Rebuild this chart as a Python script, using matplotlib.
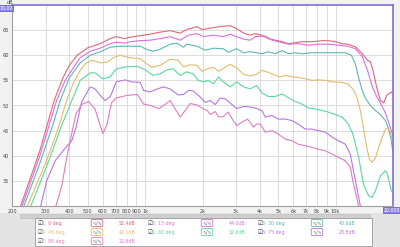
import numpy as np
import matplotlib.pyplot as plt
from matplotlib.patches import Rectangle

# frequency response, one list per angle (Hz, dB)
f0 = [222, 280, 333, 370, 400, 440, 500, 581, 655, 705, 780, 835, 942, 1062, 1200, 1353, 1527, 1650, 1870, 1990,
      2195, 2478, 2796, 3020, 3290, 3562, 3784, 4100, 4430, 4820, 5230, 5680, 6140, 6650, 7500, 8500, 9150, 9960,
      10800, 11600, 12690, 13800, 14700, 15216, 15700, 16400, 17173, 17900, 18500, 19600, 20000]
db0 = [30, 41, 51, 55.5, 58, 60, 61.5, 62.3, 63.3, 63.7, 63.3, 63.6, 63.9, 64.2, 64.6, 64.9, 64.4, 65.1, 65.7, 65.1,
       65.4, 65.7, 65.9, 65.3, 64.4, 64, 64.3, 64, 63.3, 63, 62.7, 62.3, 62.5, 62.7, 62.7, 62.9, 62.9, 62.7,
       62.3, 62.2, 61.7, 60.3, 59, 58.7, 57, 53.7, 51, 50.5, 52, 52.7, 52.4]

f15 = [226, 280, 343, 380, 420, 456, 515, 581, 655, 705, 786, 835, 942, 1062, 1200, 1353, 1527, 1690, 1870, 2030,
       2280, 2570, 2796, 3020, 3290, 3562, 3784, 4271, 4640, 5000, 5680, 6350, 7200, 8100, 9150, 10300, 11600, 12690,
       13800, 14700, 15500, 16400, 17173, 18245, 19600, 20000]
db15 = [30, 40, 51, 55, 57.5, 59.5, 60.8, 61.4, 62.3, 62.6, 62.4, 62.7, 62.9, 63, 63.3, 63.7, 63, 64, 64.3, 63.7,
        64, 63.7, 64.2, 63.7, 63.2, 63, 63.7, 63.8, 63, 62.7, 62.2, 62.3, 62, 62.2, 62.2, 62, 61.8, 61.3,
        59.7, 57, 54, 51.8, 50.5, 48.5, 45, 44]

f30 = [231, 280, 330, 358, 400, 456, 515, 581, 655, 739, 835, 942, 1010, 1100, 1200, 1353, 1470, 1590, 1650, 1870,
       2066, 2280, 2570, 2730, 3020, 3290, 3562, 3850, 4100, 4430, 4820, 5230, 5680, 6140, 6650, 7500, 8500, 9960,
       11244, 12100, 12690, 13200, 13800, 14300, 15216, 16165, 17173, 18245, 18900, 19500, 20000]
db30 = [30, 38.5, 46.5, 51, 55.5, 58.5, 60, 60.7, 61.6, 61.8, 61.8, 61.8, 61.2, 60.8, 61.2, 62.2, 62.4, 61.6, 62.2, 61.8,
        61, 61.4, 61.3, 60.6, 61.3, 60.5, 60.7, 60.5, 60.3, 60.7, 60.3, 60.9, 60.3, 60.5, 60.3, 60.5, 60.5, 60.5,
        60.5, 60, 58.3, 55.5, 53, 51.5, 50, 49, 48.2, 47, 45.5, 43.5, 40.6]

f45 = [241, 300, 350, 387, 420, 456, 490, 530, 581, 630, 680, 739, 835, 942, 1010, 1085, 1200, 1353, 1490, 1590,
       1724, 1870, 1990, 2120, 2280, 2430, 2570, 2796, 3020, 3290, 3562, 3850, 4100, 4430, 4820, 5121, 5440, 5900,
       6350, 6929, 7500, 8100, 8827, 9600, 10800, 11600, 12300, 12900, 13482, 14000, 14500, 15000, 15500, 16165,
       16800, 17600, 18245, 18700, 19383, 20000]
db45 = [30, 38.5, 45.5, 51, 54.5, 57, 58.5, 59, 58.5, 58.6, 59.5, 60, 59.5, 59.3, 58.4, 57.6, 58, 59.2, 59, 57.7,
        58.1, 58, 56.8, 57.3, 57.6, 56.8, 57.4, 58.2, 57.5, 56.2, 55.9, 56.2, 57, 56.6, 56, 55.7, 56, 55.7,
        55.6, 55.3, 55, 55.1, 55, 54.7, 54.6, 54.3, 53.3, 51.7, 49, 45.5, 42, 39.5, 38.7, 39.5,
        41.6, 43.8, 45.2, 45.6, 44.8, 42.1]

f60 = [251, 317, 360, 412, 456, 515, 546, 600, 655, 705, 800, 910, 1010, 1100, 1200, 1300, 1400, 1527, 1650, 1790,
       1900, 2030, 2140, 2280, 2430, 2570, 2796, 3020, 3290, 3562, 3850, 4100, 4430, 4820, 5230, 5680, 6140, 6650,
       7200, 7821, 8500, 9150, 9960, 10800, 11600, 12300, 13200, 14000, 14900, 15500, 16165, 17173, 18245, 18700,
       19600, 20000]
db60 = [30, 39.7, 45.5, 51, 55, 56.5, 56.5, 55.3, 55.7, 57.3, 57.7, 57.8, 57, 56, 56.3, 57.1, 57.3, 56, 56.7, 56.3,
        55, 54.7, 55, 54.3, 55.7, 54.7, 53.7, 54.7, 53.7, 53.3, 54, 52.5, 51.8, 51.8, 52.3, 51.5, 50.8, 50.3,
        49.5, 49.3, 49, 48.7, 48.2, 47.7, 46.4, 44.4, 39.7, 34.3, 32, 31.7, 33, 36, 37, 36.4,
        33, 32.6]

f75 = [283, 304, 337, 380, 412, 434, 464, 515, 546, 581, 617, 655, 705, 786, 850, 942, 980, 1062, 1160, 1250,
       1353, 1490, 1590, 1690, 1790, 1945, 2066, 2195, 2332, 2478, 2632, 2796, 3020, 3290, 3562, 3850, 4100, 4271,
       4640, 5000, 5440, 5900, 6350, 6929, 7500, 8100, 8827, 9600, 10300, 11244, 11945, 12300, 12900, 13482, 14000]
db75 = [30, 35, 39, 41.5, 43, 45.7, 50.7, 53.7, 53.3, 52, 51, 51.7, 54.7, 55.1, 54.7, 54.6, 53, 52.7, 53.3, 53.7,
        53.3, 52.1, 52.2, 53, 52.9, 51.7, 50.6, 51, 50.2, 51.5, 51.3, 50.5, 49.4, 49.8, 49.7, 49.4, 49, 47.7,
        48, 47.3, 47.3, 47, 46.3, 45.3, 45.3, 45, 44.7, 43.7, 43, 42.3, 40.3, 37.7, 33.7, 30, 27]

f90 = [340, 365, 387, 412, 434, 464, 505, 546, 581, 600, 630, 665, 705, 800, 910, 980, 1062, 1180, 1250, 1353,
       1438, 1527, 1622, 1724, 1870, 2030, 2120, 2195, 2332, 2430, 2570, 2730, 2900, 3020, 3230, 3450, 3700, 3850,
       4020, 4271, 4640, 5000, 5440, 5900, 6350, 6929, 7500, 8100, 8827, 9600, 10300, 11244, 11945, 12300, 12900,
       13200, 13800]
db90 = [30, 34, 39.5, 44.5, 48.4, 50.2, 50.8, 49.3, 46, 44.4, 46.2, 50.5, 51.5, 52, 52.2, 50.3, 50, 49.4, 50, 51,
        49.3, 47.7, 49, 50.4, 50.1, 49.3, 49, 48.2, 48.8, 47.7, 47.8, 48.7, 47, 46, 46.7, 47.3, 45.7, 46.3,
        46.3, 44.7, 45, 44.3, 43.3, 43, 42.3, 42, 41.7, 41.3, 41, 40.3, 39.7, 39, 37.7, 35, 31.7,
        30, 27]

names = ["1: 0 deg", "2: 15 deg", "3: 30 deg", "4: 45 deg", "5: 60 deg", "6: 75 deg", "7: 90 deg"]
levels = ["52.4dB", "44.0dB", "40.6dB", "42.1dB", "32.6dB", "23.8dB", "22.6dB"]
colors = ["#e06878", "#d870e0", "#5cb8b4", "#e0bc6c", "#5cd89c", "#b478e0", "#e07cc4"]
curves = [(f0, db0), (f15, db15), (f30, db30), (f45, db45), (f60, db60), (f75, db75), (f90, db90)]

xticks = [200, 300, 400, 500, 600, 700, 800, 900, 1000, 2000, 3000, 4000, 5000, 6000, 7000, 8000, 9000, 10000]
xlabels = ["200", "300", "400", "500", "600", "700", "800", "900", "1k", "2k", "3k", "4k", "5k", "6k", "7k",
           "8k", "9k", "10k"]
yticks = [35, 40, 45, 50, 55, 60, 65]

W, H = 400, 247
fig = plt.figure(figsize=(4, 2.47), dpi=100, facecolor="#f2f2f2")

def px(x, y, w, h):
    return [x / W, 1 - (y + h) / H, w / W, h / H]

ax = fig.add_axes(px(12, 5, 381, 201))
ax.set_xscale("log")
ax.set_xlim(200, 20000)
ax.set_ylim(30, 70)
for (f, d), c in zip(curves, colors):
    ax.plot(f, d, color=c, lw=0.8)

ax.set_xticks(xticks)
ax.set_xticklabels(xlabels)
ax.xaxis.set_minor_locator(plt.NullLocator())
ax.set_yticks(yticks)
ax.tick_params(labelsize=3.6, length=0, pad=2, colors="#444444")
ax.grid(True, color="#dcdcdc", lw=0.7)
for s in ["left", "bottom"]:
    ax.spines[s].set_color("#a0a0a0")
for s in ["top", "right"]:
    ax.spines[s].set_color("#7b6fd8")
    ax.spines[s].set_linewidth(1.2)

fig.text(10 / W, 1 - 3 / H, "dB", fontsize=3.6, color="#444444", ha="center", va="center")
fig.text(6 / W, 1 - 8 / H, "70.00", fontsize=3.4, color="#ffffff", ha="center", va="center",
         bbox=dict(boxstyle="square,pad=0.15", fc="#8c84e8", ec="#5a50c8", lw=0.5))
fig.text(392 / W, 1 - 210 / H, "20.000", fontsize=3.4, color="#ffffff", ha="center", va="center",
         bbox=dict(boxstyle="square,pad=0.15", fc="#8c84e8", ec="#5a50c8", lw=0.5))

# scroll bar and legend panel
fig.patches.append(Rectangle((0, 0), 1, 1 - 213 / H, transform=fig.transFigure, fc="#e4e4e4", ec="none"))
fig.patches.append(Rectangle((20 / W, 1 - 218 / H), 350 / W, 4 / H, transform=fig.transFigure,
                             fc="#cfcfcf", ec="#b8b8b8", lw=0.4))
fig.patches.append(Rectangle((35 / W, 1 - 246 / H), 337 / W, 28 / H, transform=fig.transFigure,
                             fc="#ffffff", ec="#9a9a9a", lw=0.6))

col_x = [37, 147, 257]
sym_dx = 60
val_dx = 82
row_y = [223, 232, 241]
for i, (n, v, c) in enumerate(zip(names, levels, colors)):
    cx = col_x[i % 3]
    cy = row_y[i // 3]
    fig.text(cx / W, 1 - cy / H, "\u2611", fontsize=4, color="#333333", va="center", ha="left")
    fig.text((cx + 5) / W, 1 - cy / H, n, fontsize=3.4, color=c, va="center", ha="left")
    fig.text((cx + sym_dx) / W, 1 - cy / H, "\u223f/\u223f", fontsize=3.4, color="#777777", va="center",
             ha="center", bbox=dict(boxstyle="round,pad=0.2", fc="#ffffff", ec=c, lw=0.6))
    fig.text((cx + val_dx) / W, 1 - cy / H, v, fontsize=3.4, color=c, va="center", ha="left")

fig.savefig("out.png", dpi=100, facecolor=fig.get_facecolor())
